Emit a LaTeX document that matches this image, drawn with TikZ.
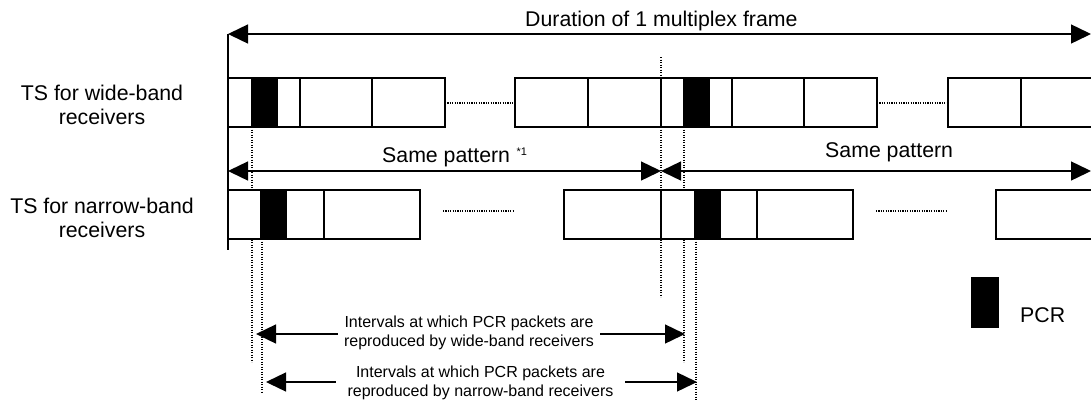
\documentclass[tikz,border=0pt]{standalone}
\usepackage{fontspec}
\setmainfont{Liberation Sans}
\usetikzlibrary{arrows.meta}
\begin{document}
\begin{tikzpicture}[x=1pt,y=-1pt,
  box/.style={draw, line width=1.6pt, fill=white},
  pcrbox/.style={draw, line width=1.6pt, fill=black},
  tip/.tip={Triangle[length=20pt,width=19pt]},
  dimline/.style={line width=1.4pt, tip-tip},
  guide/.style={line width=1.2pt, dash pattern=on 1.2pt off 1.3pt},
  gapdots/.style={line width=1.1pt, dash pattern=on 1.1pt off 1.3pt},
  bigtxt/.style={font=\fontsize{21.3}{24}\selectfont, inner sep=0pt},
  smalltxt/.style={font=\fontsize{16}{19}\selectfont, align=center, fill=white, inner ysep=1pt}]
\useasboundingbox (0,0) rectangle (1091,405);

% named coordinates
\coordinate (topL) at (228,34);
\coordinate (topR) at (1091,34);
\coordinate (axisBot) at (228,250);
\coordinate (spL) at (228,171);
\coordinate (spM) at (661,171);
\coordinate (spR) at (1091,171);
\coordinate (iwL) at (256,334);
\coordinate (iwR) at (685,334);
\coordinate (inL) at (266,382);
\coordinate (inR) at (697,382);

% dotted guide lines
\coordinate (g1a) at (252,127); \coordinate (g1b) at (252,362);
\coordinate (g2a) at (262,239); \coordinate (g2b) at (262,393);
\coordinate (g3a) at (661,57);  \coordinate (g3b) at (661,297);
\coordinate (g4a) at (684,127); \coordinate (g4b) at (684,362);
\coordinate (g5a) at (696,239); \coordinate (g5b) at (696,400);
\draw[guide] (g1a) -- (g1b);
\draw[guide] (g2a) -- (g2b);
\draw[guide] (g3a) -- (g3b);
\draw[guide] (g4a) -- (g4b);
\draw[guide] (g5a) -- (g5b);

% left axis line
\draw[line width=1.4pt] (topL) -- (axisBot);

% wide-band row
\draw[box] (228,78) rectangle (252,127);
\draw[pcrbox] (252,78) rectangle (277,127);
\draw[box] (277,78) rectangle (300,127);
\draw[box] (300,78) rectangle (372,127);
\draw[box] (372,78) rectangle (445,127);
\draw[box] (515,78) rectangle (588,127);
\draw[box] (588,78) rectangle (661,127);
\draw[box] (661,78) rectangle (684,127);
\draw[pcrbox] (684,78) rectangle (709,127);
\draw[box] (709,78) rectangle (732,127);
\draw[box] (732,78) rectangle (804,127);
\draw[box] (804,78) rectangle (877,127);
\draw[box] (948,78) rectangle (1021,127);
\draw[box] (1021,78) rectangle (1096,127);
\coordinate (wd1a) at (445,103); \coordinate (wd1b) at (515,103);
\coordinate (wd2a) at (877,103); \coordinate (wd2b) at (948,103);
\draw[gapdots] (wd1a) -- (wd1b);
\draw[gapdots] (wd2a) -- (wd2b);

% narrow-band row
\draw[box] (228,190) rectangle (261,239);
\draw[pcrbox] (261,190) rectangle (286,239);
\draw[box] (286,190) rectangle (324,239);
\draw[box] (324,190) rectangle (420,239);
\draw[box] (564,190) rectangle (661,239);
\draw[box] (661,190) rectangle (695,239);
\draw[pcrbox] (695,190) rectangle (720,239);
\draw[box] (720,190) rectangle (757,239);
\draw[box] (757,190) rectangle (853,239);
\draw[box] (996,190) rectangle (1096,239);
\coordinate (nd1a) at (443,211); \coordinate (nd1b) at (513,211);
\coordinate (nd2a) at (876,211); \coordinate (nd2b) at (947,211);
\draw[gapdots] (nd1a) -- (nd1b);
\draw[gapdots] (nd2a) -- (nd2b);

% dimension arrows
\draw[dimline] (topL) -- (topR);
\draw[dimline] (spL) -- (spM);
\draw[dimline] (spM) -- (spR);
\draw[dimline] (iwL) -- (iwR);
\draw[dimline] (inL) -- (inR);

% texts
\node[bigtxt, anchor=base west] (title) at (525,26) {Duration of 1 multiplex frame};
\node[bigtxt, anchor=base west] (same1) at (382,162) {Same pattern\hspace{6.5pt}\raisebox{7pt}{\fontsize{11}{11}\selectfont *1}};
\node[bigtxt, anchor=base west] (same2) at (825,157) {Same pattern};
\node[bigtxt, align=center] (lwide) at (102,105) {TS for wide-band\\receivers};
\node[bigtxt, align=center] (lnarrow) at (102,218) {TS for narrow-band\\receivers};
\node[smalltxt, inner xsep=6pt] (twide) at (469,333) {Intervals at which PCR packets are\\reproduced by wide-band receivers};
\node[smalltxt, inner xsep=12pt] (tnarrow) at (480.5,383) {Intervals at which PCR packets are\\reproduced by narrow-band receivers};

% legend
\draw[pcrbox] (972,278) rectangle (998,327);
\node[bigtxt, anchor=base west] (lpcr) at (1020,322) {PCR};
\end{tikzpicture}
\end{document}
